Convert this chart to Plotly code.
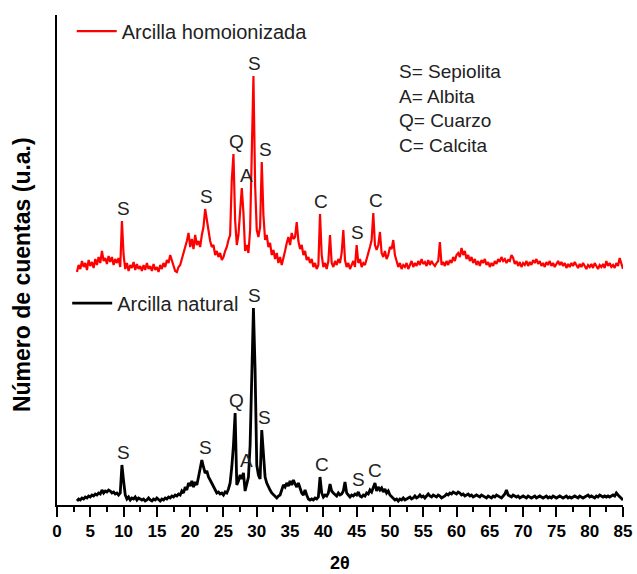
import numpy as np
import plotly.graph_objects as go

# Diffractograms sampled every 0.25 degrees (2-theta) from 3 to 85
STEP = 0.25
START = 3.0

# Arcilla natural (counts, arbitrary units)
natural = [
    4, 6, 5, 7, 6, 8, 7, 9, 8, 10, 9, 11, 10, 12, 11, 15, 12, 14, 13, 15,          # 3
    14, 12, 13, 11, 12, 10, 12, 40, 24, 10, 6, 8, 5, 7, 6, 8, 5, 7, 6, 5,           # 8
    6, 4, 5, 7, 5, 4, 6, 5, 7, 5, 4, 6, 5, 7, 6, 8, 7, 9, 8, 10,                    # 13
    9, 11, 10, 14, 12, 18, 15, 22, 19, 24, 18, 23, 20, 28, 36, 45, 38, 32, 34, 28,  # 18
    25, 22, 18, 15, 12, 13, 11, 12, 10, 13, 12, 16, 22, 38, 60, 92, 20, 24, 30, 26, # 23
    32, 14, 20, 28, 60, 117, 197, 135, 40, 30, 26, 75, 52, 28, 22, 18, 15, 12, 10, 8,  # 28
    7, 9, 10, 15, 20, 18, 22, 19, 24, 20, 25, 21, 18, 22, 16, 12, 10, 15, 10, 6,    # 33
    5, 6, 5, 7, 6, 8, 28, 12, 8, 10, 9, 12, 21, 14, 12, 10, 9, 12, 10, 11,          # 38
    14, 23, 12, 10, 8, 10, 9, 11, 10, 13, 9, 8, 10, 9, 12, 11, 15, 13, 18, 22,      # 43
    14, 18, 15, 17, 13, 16, 12, 14, 10, 8, 6, 5, 6, 4, 6, 5, 7, 5, 6, 7,            # 48
    8, 6, 7, 9, 7, 8, 10, 8, 9, 7, 9, 11, 9, 8, 10, 9, 8, 10, 9, 7,                 # 53
    8, 9, 11, 10, 12, 11, 13, 12, 11, 13, 12, 10, 11, 9, 10, 11, 9, 10, 8, 9,       # 58
    10, 9, 8, 10, 9, 8, 7, 9, 8, 7, 9, 8, 10, 9, 8, 7, 9, 11, 15, 10,               # 63
    9, 8, 10, 9, 8, 9, 7, 8, 9, 8, 7, 9, 8, 7, 8, 9, 7, 8, 9, 8,                    # 68
    7, 8, 9, 7, 8, 7, 9, 8, 7, 8, 9, 8, 7, 8, 9, 7, 8, 7, 8, 9,                     # 73
    8, 7, 9, 8, 7, 8, 9, 10, 8, 9, 8, 7, 9, 8, 10, 9, 8, 9, 8, 9,                   # 78
    8, 9, 10, 9, 12, 10, 8, 7, 5,                                                   # 83
]

# Arcilla homoionizada (counts, arbitrary units)
homoionizada = [
    3, 10, 6, 14, 8, 12, 5, 15, 9, 13, 7, 16, 10, 18, 12, 24, 14, 17, 11, 19,       # 3
    13, 18, 10, 16, 12, 17, 8, 54, 20, 6, 12, 4, 10, 7, 13, 5, 11, 6, 9, 4,         # 8
    10, 5, 12, 6, 9, 4, 11, 5, 8, 3, 10, 6, 12, 8, 15, 12, 20, 14, 10, 4,           # 13
    3, 8, 10, 16, 20, 28, 34, 42, 28, 36, 26, 40, 30, 34, 28, 40, 48, 66, 55, 42,   # 18
    34, 28, 30, 20, 24, 18, 22, 15, 18, 24, 28, 35, 40, 95, 121, 55, 30, 40, 60, 87,  # 23
    62, 24, 30, 22, 45, 120, 199, 90, 45, 38, 48, 113, 60, 35, 40, 28, 32, 20, 25, 16,  # 28
    22, 12, 18, 10, 16, 24, 32, 38, 30, 42, 36, 38, 53, 34, 26, 30, 20, 24, 15, 18, # 33
    12, 16, 8, 12, 6, 10, 61, 20, 8, 12, 6, 14, 40, 12, 8, 14, 10, 16, 12, 22,      # 38
    45, 15, 8, 12, 6, 10, 14, 8, 30, 12, 16, 8, 12, 10, 16, 20, 28, 35, 62, 30,     # 43
    25, 30, 43, 22, 18, 24, 16, 20, 28, 26, 35, 20, 14, 8, 12, 6, 10, 8, 12, 6,     # 48
    10, 14, 8, 12, 9, 14, 10, 16, 11, 13, 9, 15, 10, 14, 11, 9, 12, 14, 33, 10,     # 53
    13, 9, 14, 10, 15, 12, 18, 14, 20, 22, 18, 27, 20, 24, 16, 20, 14, 18, 12, 16,  # 58
    10, 14, 9, 15, 12, 16, 10, 13, 8, 12, 9, 14, 11, 16, 13, 18, 14, 16, 12, 15,    # 63
    14, 20, 17, 11, 14, 9, 13, 8, 12, 10, 14, 9, 13, 10, 15, 12, 16, 11, 14, 9,     # 68
    12, 8, 13, 10, 14, 9, 12, 8, 11, 14, 10, 13, 9, 12, 7, 11, 8, 12, 9, 13,        # 73
    10, 7, 11, 8, 12, 9, 6, 10, 8, 11, 7, 12, 9, 6, 10, 8, 11, 7, 14, 9,            # 78
    12, 8, 10, 7, 12, 9, 17, 10, 6,                                                 # 83
]

# Phase assignments: (letter, 2-theta of the reflection, label shift in 2-theta)
peaks_homo = [("S", 9.75, 0.3), ("S", 22.25, 0.25), ("Q", 26.5, 0.4), ("A", 27.75, 0.7),
              ("S", 29.5, 0.2), ("S", 30.75, 0.6), ("C", 39.5, 0.1), ("S", 45.0, 0.2),
              ("C", 47.5, 0.4)]
peaks_nat = [("S", 9.75, 0.3), ("S", 21.75, 0.6), ("Q", 26.75, 0.15), ("A", 28.0, 0.4),
             ("S", 29.5, 0.1), ("S", 30.75, 0.45), ("C", 39.5, 0.3), ("S", 45.25, 0.0),
             ("C", 47.75, 0.0)]

phase_key = ["S= Sepiolita", "A= Albita", "Q= Cuarzo", "C= Calcita"]

OFFSET = 230  # vertical shift of the homoionized pattern
two_theta = START + STEP * np.arange(len(natural))
two_theta_h = START + STEP * np.arange(len(homoionizada))
nat = np.array(natural, dtype=float)
homo = np.array(homoionizada, dtype=float) + OFFSET

FONT = "Arial, Liberation Sans, sans-serif"
TXT = "#222222"

fig = go.Figure()
fig.add_trace(go.Scatter(x=two_theta_h, y=homo, mode="lines", name="Arcilla homoionizada",
                         line=dict(color="#ff0000", width=2.2), legend="legend",
                         showlegend=True))
fig.add_trace(go.Scatter(x=two_theta, y=nat, mode="lines", name="Arcilla natural",
                         line=dict(color="#000000", width=2.8), legend="legend2",
                         showlegend=True))


def label_peaks(peaks, xs, ys):
    for letter, ang, dx in peaks:
        i = int(round((ang - START) / STEP))
        fig.add_annotation(x=xs[i] + dx, y=ys[i] + 13, text=letter, showarrow=False,
                           xanchor="center", yanchor="middle",
                           font=dict(family=FONT, size=19, color=TXT))


label_peaks(peaks_homo, two_theta_h, homo)
label_peaks(peaks_nat, two_theta, nat)

fig.add_annotation(xref="paper", yref="paper", x=0.60, y=0.91, xanchor="left", yanchor="top",
                   align="left", showarrow=False, text="<br>".join(phase_key),
                   font=dict(family=FONT, size=19, color=TXT))

# Axis titles
fig.add_annotation(xref="paper", yref="paper", x=-0.062, y=0.471, xanchor="center",
                   yanchor="middle", textangle=-90, showarrow=False,
                   text="<b>Número de cuentas (u.a.)</b>",
                   font=dict(family=FONT, size=23, color="black"))
fig.add_annotation(xref="paper", yref="paper", x=0.5, y=-0.118, xanchor="center",
                   yanchor="middle", showarrow=False, text="<b>2θ</b>",
                   font=dict(family=FONT, size=18, color="black"))

legend_style = dict(xanchor="left", yanchor="middle", bgcolor="rgba(0,0,0,0)",
                    font=dict(family=FONT, size=20, color=TXT), itemwidth=40)

fig.update_layout(
    width=637, height=574,
    margin=dict(l=57, r=14, t=15, b=69),
    paper_bgcolor="white", plot_bgcolor="white",
    showlegend=True,
    font=dict(family=FONT, color=TXT),
    legend=dict(x=0.026, y=0.967, **legend_style),
    legend2=dict(x=0.018, y=0.412, **legend_style),
    xaxis=dict(range=[0, 85], showline=True, linecolor="black", linewidth=2,
               ticks="outside", ticklen=10, tickwidth=2, tickcolor="black", dtick=5, tick0=0,
               minor=dict(ticks="outside", ticklen=5, tickwidth=2, tickcolor="black", dtick=2.5),
               showgrid=False, zeroline=False, automargin=False,
               tickfont=dict(family=FONT, size=17, color="black", weight="bold")),
    yaxis=dict(range=[0, 490], showline=True, linecolor="black", linewidth=2,
               ticks="", showticklabels=False, showgrid=False, zeroline=False,
               automargin=False),
)

fig.write_html("out.html")
